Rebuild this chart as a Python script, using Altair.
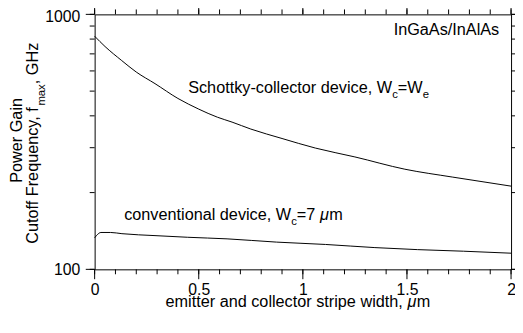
import altair as alt
import pandas as pd

# ---- data ----
schottky_x = [0.0, 0.05, 0.13, 0.20, 0.29, 0.40, 0.50, 0.59, 0.66, 0.75, 0.90, 1.06, 1.25, 1.49, 1.72, 2.0]
schottky_y = [821, 748, 659, 594, 535, 468, 425, 395, 378, 355, 326, 299, 276, 247, 230, 212]

conv_x = [0.0, 0.01, 0.03, 0.077, 0.131, 0.29, 0.447, 0.636, 0.873, 1.109, 1.346, 1.55, 1.772, 2.0]
conv_y = [133, 136, 139.5, 139.5, 138, 135.6, 133.6, 131.7, 127.9, 125.2, 121.7, 119.5, 117.8, 115.7]

x_minor_ticks = [round(i * 0.1, 1) for i in range(21)]
x_major_ticks = [0, 0.5, 1, 1.5, 2]
y_minor_ticks = [100, 200, 300, 400, 500, 600, 700, 800, 900, 1000]
y_major_ticks = [100, 1000]

x_title = ["emitter and collector stripe width, ", "\u03bc", "m"]
y_title_1 = "Power Gain"
y_title_2 = ["Cutoff Frequency, f", "max", " , GHz"]
label_schottky = ["Schottky-collector device, W", "c", "=W", "e"]
label_conv = ["conventional device, W", "c", "=7 ", "\u03bc", "m"]
label_material = "InGaAs/InAlAs"

FONT = "Liberation Sans"
FS = 16.5
TFS = 16
SUB = 11.5
PW, PH = 423, 259

# Arial / Liberation Sans advance widths (per 1000 em) used only to place text pieces
W = {' ': 278, ',': 278, '-': 333, '/': 278, '=': 584, '7': 556,
     'A': 667, 'C': 722, 'F': 611, 'G': 778, 'H': 722, 'I': 278, 'P': 667, 'S': 667, 'W': 944,
     'a': 556, 'c': 500, 'd': 556, 'e': 556, 'f': 278, 'h': 556, 'i': 222, 'k': 500, 'l': 222,
     'm': 833, 'n': 556, 'o': 556, 'p': 556, 'q': 556, 'r': 333, 's': 500, 't': 278, 'u': 556,
     'v': 500, 'w': 722, 'x': 500, 'y': 500, 'z': 500, '\u03bc': 576}


def tw(s, size):
    return sum(W.get(ch, 556) for ch in s) * size / 1000.0


rows = []
for xv, yv in zip(schottky_x, schottky_y):
    rows.append({"x": xv, "y": yv, "series": "schottky"})
for xv, yv in zip(conv_x, conv_y):
    rows.append({"x": xv, "y": yv, "series": "conventional"})
df = pd.DataFrame(rows)

xs = alt.Scale(domain=[0, 2], nice=False, zero=False)
ys = alt.Scale(type="log", domain=[100, 1000], nice=False)

label_axis = dict(grid=False, domain=False, ticks=False, labelFont=FONT, labelFontSize=TFS,
                  labelColor="black", labelOverlap=False, labelFlush=False, labelBound=False, title=None)

lines = alt.Chart(df).mark_line(color="black", strokeWidth=1, interpolate="monotone").encode(
    x=alt.X("x:Q", scale=xs, axis=alt.Axis(orient="bottom", values=x_major_ticks, format="~g",
                                           labelPadding=13, **label_axis)),
    y=alt.Y("y:Q", scale=ys, axis=alt.Axis(orient="left", values=[y_major_ticks[0]], format="d",
                                           labelPadding=15, **label_axis)),
    detail="series:N",
)
top_label = alt.Chart(df).mark_line(strokeOpacity=0).encode(
    x=alt.X("x:Q", scale=xs, axis=None),
    y=alt.Y("y:Q", scale=ys, axis=alt.Axis(orient="left", values=[y_major_ticks[1]], format="d",
                                           labelPadding=15, labelOffset=2, **label_axis)),
    detail="series:N",
)


def xticks(values, y0, y1):
    return alt.Chart(pd.DataFrame({"x": values})).mark_rule(color="black", strokeWidth=1).encode(
        x=alt.X("x:Q", scale=xs, axis=None), y=alt.value(y0), y2=alt.value(y1))


def yticks(values, x0, x1):
    return alt.Chart(pd.DataFrame({"y": values})).mark_rule(color="black", strokeWidth=1).encode(
        y=alt.Y("y:Q", scale=ys, axis=None), x=alt.value(x0), x2=alt.value(x1))


ticks = [
    xticks(x_minor_ticks, PH, PH + 5), xticks(x_major_ticks, PH, PH + 10),
    xticks(x_minor_ticks, 0, -5), xticks(x_major_ticks, 0, -9),
    yticks(y_minor_ticks, 0, -5), yticks(y_major_ticks, 0, -9),
    yticks(y_minor_ticks, PW, PW + 5), yticks(y_major_ticks, PW, PW + 9),
]


def txt(s, x, y, size=FS, align="left", angle=0, italic=False):
    kw = dict(font=FONT, fontSize=size, align=align, baseline="alphabetic", color="black")
    if angle:
        kw["angle"] = angle
    if italic:
        kw["fontStyle"] = "italic"
    return alt.Chart(pd.DataFrame({"t": [s]})).mark_text(**kw).encode(
        x=alt.value(x), y=alt.value(y), text="t:N")


texts = []
# InGaAs/InAlAs
texts.append(txt(label_material, 411, 21, align="right"))

# Schottky label
x0, yb = 95, 80
texts.append(txt(label_schottky[0], x0, yb))
x1 = x0 + tw(label_schottky[0], FS)
texts.append(txt(label_schottky[1], x1, yb + 5, size=SUB))
x2 = x1 + tw(label_schottky[1], SUB)
texts.append(txt(label_schottky[2], x2, yb))
x3 = x2 + tw(label_schottky[2], FS)
texts.append(txt(label_schottky[3], x3, yb + 5, size=SUB))

# conventional label
x0, yb = 30, 209
texts.append(txt(label_conv[0], x0, yb))
x1 = x0 + tw(label_conv[0], FS)
texts.append(txt(label_conv[1], x1, yb + 5, size=SUB))
x2 = x1 + tw(label_conv[1], SUB)
texts.append(txt(label_conv[2], x2, yb))
x3 = x2 + tw(label_conv[2], FS)
texts.append(txt(label_conv[3], x3, yb, italic=True))
x4 = x3 + tw(label_conv[3], FS)
texts.append(txt(label_conv[4], x4, yb))

# x-axis title
x0, yb = 72, 297
texts.append(txt(x_title[0], x0, yb))
x1 = x0 + tw(x_title[0], FS)
texts.append(txt(x_title[1], x1, yb, italic=True))
x2 = x1 + tw(x_title[1], FS)
texts.append(txt(x_title[2], x2, yb))

# y-axis title (rotated)
texts.append(txt(y_title_1, -74, 128, align="center", angle=270))
yb0, xb = 233, -57.5
texts.append(txt(y_title_2[0], xb, yb0, angle=270))
y1 = yb0 - tw(y_title_2[0], FS)
texts.append(txt(y_title_2[1], xb + 7, y1, size=SUB, angle=270))
y2 = y1 - tw(y_title_2[1], SUB)
texts.append(txt(y_title_2[2], xb, y2, angle=270))

chart = alt.layer(lines, top_label, *ticks, *texts).resolve_axis(
    x="independent", y="independent").properties(
    width=PW, height=PH,
    padding={"left": 88, "top": 4, "right": 4, "bottom": 50},
    autosize=alt.AutoSizeParams(type="none"),
).configure_view(stroke="black", strokeWidth=1)

chart.save("out.html", embed_options={"renderer": "svg", "actions": False})
